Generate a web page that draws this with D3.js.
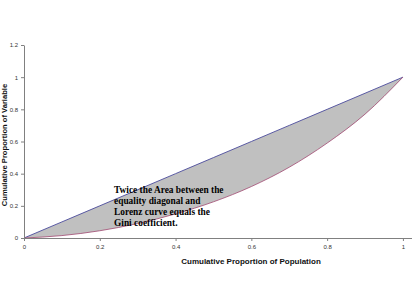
<!DOCTYPE html>
<html>
<head>
<meta charset="utf-8">
<script src="https://cdn.jsdelivr.net/npm/d3@7"></script>
<style>
  body { margin: 0; background: #fff; }
  .axis path, .axis line { stroke: #808080; }
  .axis text { font-family: Arial, "Liberation Sans", sans-serif; font-size: 6px; fill: #333; }
</style>
</head>
<body>
<div id="chart"></div>
<script>
// cumulative proportion of population vs cumulative proportion of variable
var population = [0, 0.1, 0.2, 0.3, 0.4, 0.5, 0.6, 0.7, 0.8, 0.9, 1];
var lorenz     = [0, 0.015, 0.045, 0.09, 0.15, 0.225, 0.32, 0.44, 0.59, 0.77, 1];
var equality   = [0, 0.1, 0.2, 0.3, 0.4, 0.5, 0.6, 0.7, 0.8, 0.9, 1];
var xTicks = [0, 0.2, 0.4, 0.6, 0.8, 1];
var yTicks = [0, 0.2, 0.4, 0.6, 0.8, 1, 1.2];
var note = ['Twice the Area between the', 'equality diagonal and', 'Lorenz curve equals the', 'Gini coefficient.'];

const width = 412, height = 284;
const margin = {top: 45, left: 24, bottom: 46};

var xScale = d3.scaleLinear().domain([0, 1.024]).range([margin.left, width]);
var yScale = d3.scaleLinear().domain([0, 1.2]).range([height - margin.bottom, margin.top]);

var svg = d3.select('#chart').append('svg')
    .attr('width', width)
    .attr('height', height);

var upper = population.map((p, i) => ({x: p, y: equality[i]}));
var lower = population.map((p, i) => ({x: p, y: lorenz[i]}));

var line = d3.line()
    .x(d => xScale(d.x))
    .y(d => yScale(d.y))
    .curve(d3.curveMonotoneX);

// shaded area between diagonal and lorenz curve
var area = d3.area()
    .x(d => xScale(d.x))
    .y0(d => yScale(d.lo))
    .y1(d => yScale(d.hi))
    .curve(d3.curveMonotoneX);

svg.append('path')
    .datum(population.map((p, i) => ({x: p, lo: lorenz[i], hi: equality[i]})))
    .attr('d', area)
    .attr('fill', '#c0c0c0');

svg.append('path')
    .datum(upper)
    .attr('d', line)
    .attr('fill', 'none')
    .attr('stroke', '#4b4b9c')
    .attr('stroke-width', 0.9);

svg.append('path')
    .datum(lower)
    .attr('d', line)
    .attr('fill', 'none')
    .attr('stroke', '#a04870')
    .attr('stroke-width', 0.8);

svg.append('g')
    .attr('class', 'axis')
    .attr('transform', 'translate(0,' + yScale(0) + ')')
    .call(d3.axisBottom(xScale).tickValues(xTicks).tickSize(3).tickSizeOuter(0).tickPadding(4)
        .tickFormat(d3.format('~g')));

svg.append('g')
    .attr('class', 'axis')
    .attr('transform', 'translate(' + xScale(0) + ',0)')
    .call(d3.axisLeft(yScale).tickValues(yTicks).tickSize(3).tickSizeOuter(0).tickPadding(3)
        .tickFormat(d3.format('~g')));

svg.append('text')
    .attr('x', 251)
    .attr('y', 264)
    .attr('text-anchor', 'middle')
    .attr('font-family', 'Arial, "Liberation Sans", sans-serif')
    .attr('font-size', 8)
    .attr('font-weight', 'bold')
    .attr('fill', '#111')
    .text('Cumulative Proportion of Population');

svg.append('text')
    .attr('transform', 'translate(6.5,145) rotate(-90)')
    .attr('text-anchor', 'middle')
    .attr('font-family', 'Arial, "Liberation Sans", sans-serif')
    .attr('font-size', 7.6)
    .attr('font-weight', 'bold')
    .attr('fill', '#111')
    .text('Cumulative Proportion of Variable');

svg.append('g')
    .selectAll('text')
    .data(note)
    .join('text')
    .attr('x', 114)
    .attr('y', (d, i) => 193 + i * 11)
    .attr('font-family', '"Liberation Serif", "Times New Roman", serif')
    .attr('font-size', 9.4)
    .attr('font-weight', 'bold')
    .attr('fill', '#000')
    .text(d => d);
</script>
</body>
</html>
